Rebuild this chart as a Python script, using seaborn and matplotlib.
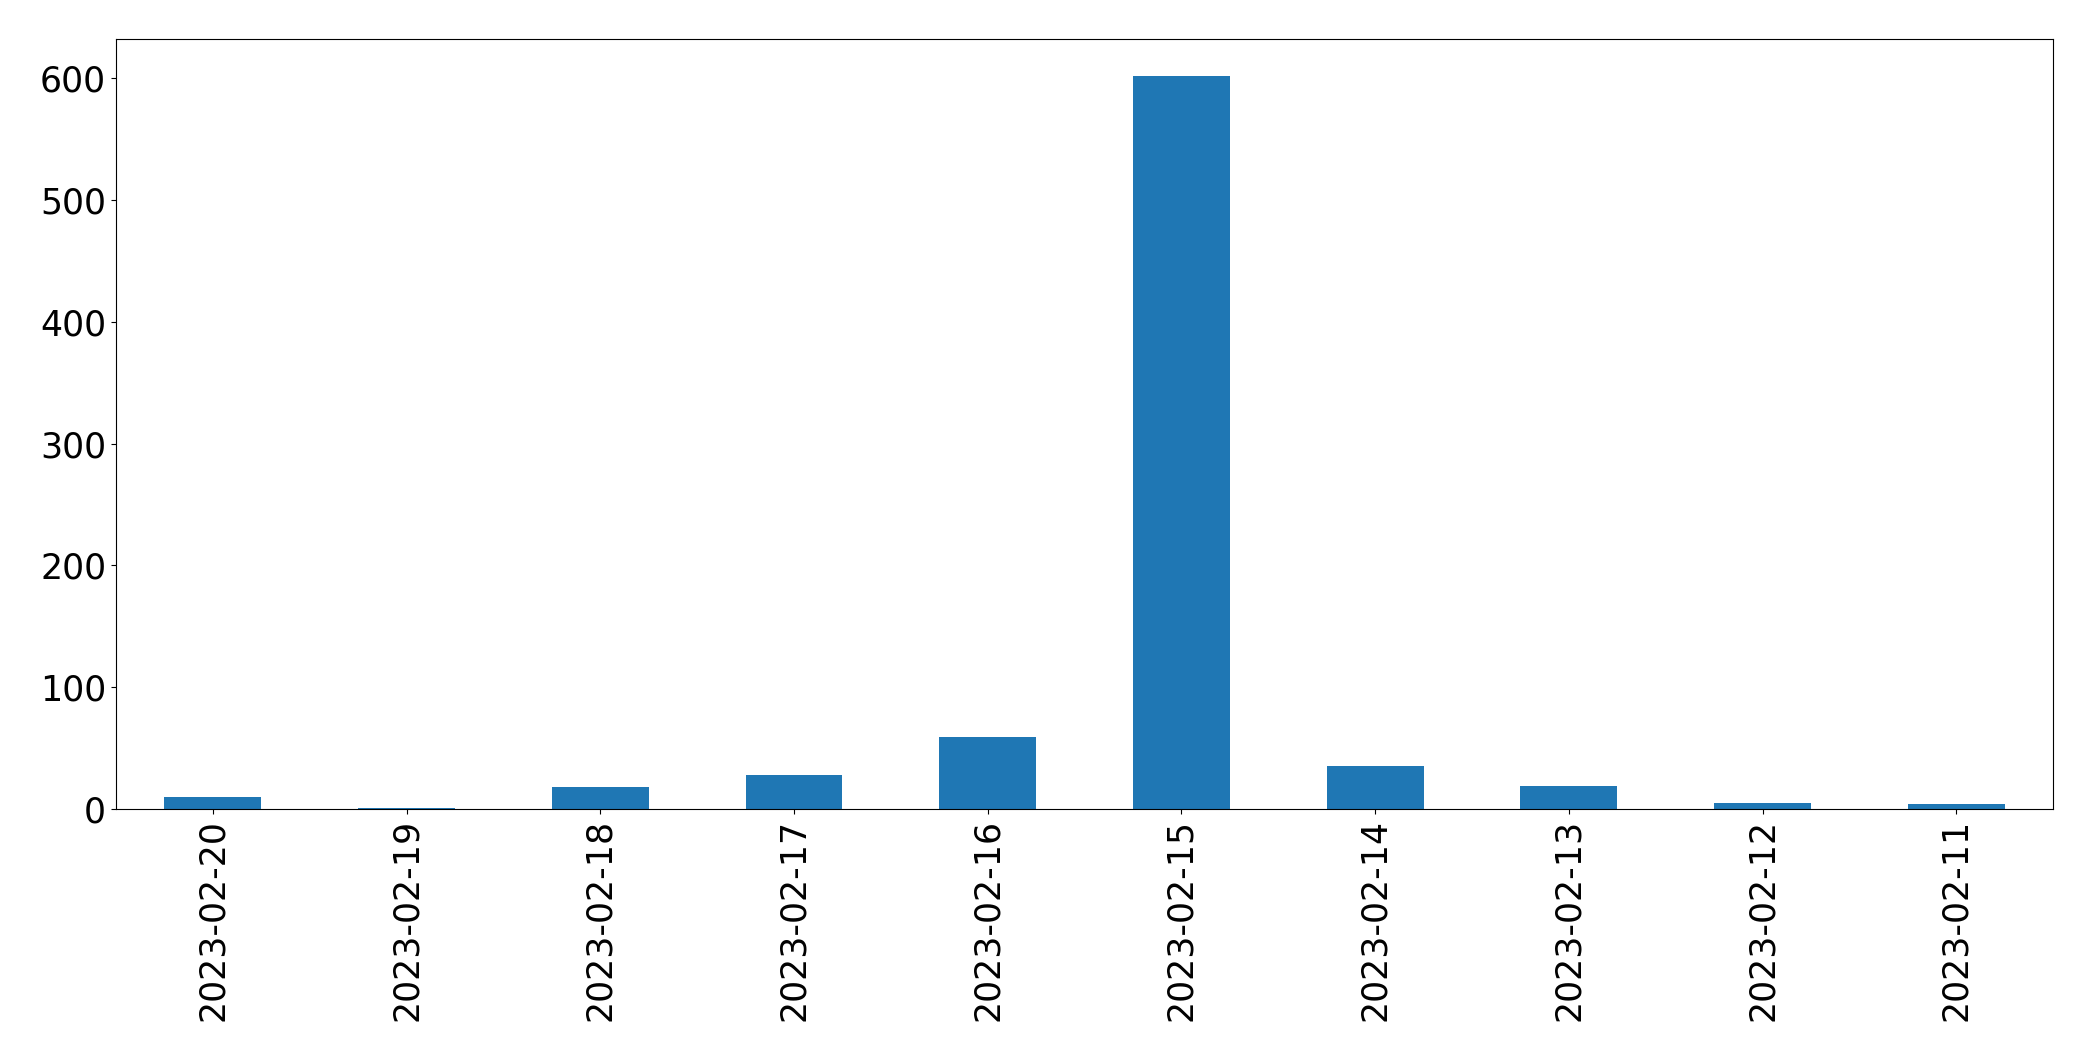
import numpy as np
import pandas as pd
import seaborn as sns
import matplotlib
matplotlib.use("Agg")
import matplotlib.pyplot as plt

dates = ["2023-02-20", "2023-02-19", "2023-02-18", "2023-02-17", "2023-02-16",
         "2023-02-15", "2023-02-14", "2023-02-13", "2023-02-12", "2023-02-11"]
counts = [10, 1, 18, 28, 59, 602, 35, 19, 5, 4]

df = pd.DataFrame({"date": dates, "count": counts})

plt.rcParams["font.size"] = 25

fig = plt.figure(figsize=(20.93, 10.61), dpi=100)
ax = fig.add_axes([0.0554, 0.2375, 0.9256, 0.7257])

sns.barplot(data=df, x="date", y="count", color="#1f77b4", saturation=1,
            width=0.5, ax=ax, order=dates)

ax.set_xlim(-0.5, len(dates) - 0.5)
ax.set_ylim(0, max(counts) * 1.05)
ax.set_xlabel("")
ax.set_ylabel("")
ax.tick_params(axis="x", labelrotation=90)
for s in ax.spines.values():
    s.set_edgecolor("black")

fig.savefig("out.png", dpi=100)
